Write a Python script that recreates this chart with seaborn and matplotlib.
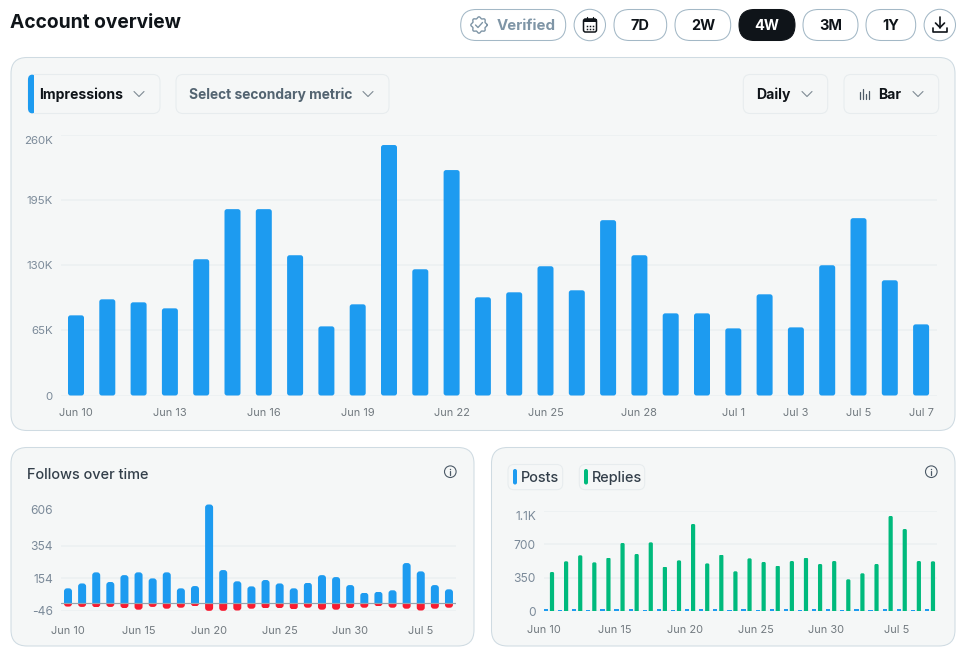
import numpy as np
import pandas as pd
import matplotlib
matplotlib.use("Agg")
import matplotlib.pyplot as plt
import matplotlib.transforms as mtransforms
from matplotlib.patches import FancyBboxPatch, Circle, Rectangle
import seaborn as sns

# ---- data -------------------------------------------------------------
dates = ["Jun 10", "Jun 11", "Jun 12", "Jun 13", "Jun 14", "Jun 15", "Jun 16",
         "Jun 17", "Jun 18", "Jun 19", "Jun 20", "Jun 21", "Jun 22", "Jun 23",
         "Jun 24", "Jun 25", "Jun 26", "Jun 27", "Jun 28", "Jun 29", "Jun 30",
         "Jul 1", "Jul 2", "Jul 3", "Jul 4", "Jul 5", "Jul 6", "Jul 7"]
impressions = [80000, 96000, 93000, 87000, 136000, 186000, 186000, 140000,
               69000, 91000, 250000, 126000, 225000, 98000, 103000, 129000,
               105000, 175000, 140000, 82000, 82000, 67000, 101000, 68000,
               130000, 177000, 115000, 71000]
follows = [92, 122, 190, 131, 173, 190, 153, 190, 92, 106, 606, 204, 135, 104,
           143, 122, 92, 126, 173, 161, 112, 65, 71, 80, 247, 196, 112, 86]
unfollows = [-20, -22, -24, -22, -29, -39, -22, -33, -27, -18, -46, -46, -44,
             -33, -31, -29, -37, -27, -39, -39, -29, -27, -18, -27, -33, -44,
             -33, -27]
replies = [410, 522, 585, 511, 560, 714, 599, 721, 466, 532, 914, 500, 592, 417,
           553, 515, 476, 525, 560, 494, 525, 333, 396, 494, 998, 861, 525, 522]
posts = [16, 15, 18, 15, 16, 18, 16, 15, 16, 15, 18, 16, 18, 15,
         16, 15, 16, 18, 15, 16, 16, 15, 16, 15, 18, 16, 15, 16]

main_y_ticks = [0, 65000, 130000, 195000, 260000]
main_y_labels = ["0", "65K", "130K", "195K", "260K"]
main_x_labels = ["Jun 10", "Jun 13", "Jun 16", "Jun 19", "Jun 22", "Jun 25",
                 "Jun 28", "Jul 1", "Jul 3", "Jul 5", "Jul 7"]
follow_y_ticks = [-46, 154, 354, 606]
reply_y_ticks = [0, 350, 700, 1050]
reply_y_labels = ["0", "350", "700", "1.1K"]
lower_x_labels = ["Jun 10", "Jun 15", "Jun 20", "Jun 25", "Jun 30", "Jul 5"]

# ---- palette ----------------------------------------------------------
BLUE, RED, GREEN = "#1d9bf0", "#f91b30", "#00ba7c"
INK, SLATE, MUTED = "#0f1419", "#536471", "#7f95a6"
PANEL, PANEL_EDGE, CHIP_EDGE = "#f5f7f7", "#cfdbe2", "#e7ecee"
GRID = "#ecf0f1"
TICK_Y, TICK_X = "#7b8a99", "#71797f"

W, H = 968, 655
sns.set_theme(style="white")
plt.rcParams["font.family"] = ["Inter", "DejaVu Sans"]
fig = plt.figure(figsize=(W / 100, H / 100), dpi=100, facecolor="white")


def px(v):
    """Pixels at 100 dpi expressed in points."""
    return v * 0.72


# ---- page furniture lives on a pixel-addressed canvas -----------------
ui = fig.add_axes([0, 0, 1, 1], zorder=0)
ui.set_xlim(0, W)
ui.set_ylim(H, 0)
ui.axis("off")


def box(x0, y0, x1, y1, r, fc, ec, lw=0.75, zorder=1):
    ui.add_patch(FancyBboxPatch((x0, y0), x1 - x0, y1 - y0,
                                boxstyle=f"round,pad=0,rounding_size={r}",
                                fc=fc, ec=ec, lw=lw, zorder=zorder))


def label(x, y, s, size, color, weight="normal", ha="left"):
    ui.text(x, y - 0.7, s, fontsize=px(size), color=color, fontweight=weight,
            ha=ha, va="center_baseline", zorder=5)


def chevron(x, y):
    ui.plot([x - 5, x, x + 5], [y - 2.5, y + 2.5, y - 2.5], color="#7f8b94",
            lw=0.8, zorder=5)


def info_icon(x, y):
    ui.add_patch(Circle((x, y), 5.8, fc="none", ec="#4c5a67", lw=0.8, zorder=5))
    ui.plot([x, x], [y - 0.8, y + 2.9], color="#4c5a67", lw=0.9, zorder=5)
    ui.plot([x], [y - 2.9], marker="o", ms=1.0, mew=0, color="#4c5a67", zorder=5)


label(10, 21.5, "Account overview", 19.2, INK, "bold")

# range selector pills
pills = [("7D", 614, 666.7), ("2W", 675, 730.7), ("3M", 803, 858), ("1Y", 866, 915.7)]
PILL_EDGE = "#a3b8c6"
box(460.7, 9.5, 565.7, 40.5, 15.5, "white", PILL_EDGE)
label(526, 25, "Verified", 15, MUTED, "bold", "center")
for name, x0, x1 in pills:
    box(x0, 9.5, x1, 40.5, 15.5, "white", PILL_EDGE)
    label((x0 + x1) / 2, 25, name, 14.5, INK, "bold", "center")
box(739, 9.5, 795, 40.5, 15.5, INK, INK)
label(767, 25, "4W", 14.5, "white", "bold", "center")

# verified badge
t = np.linspace(0, 2 * np.pi, 160)
rad = 7.4 + 0.8 * np.cos(8 * t)
ui.plot(479 + rad * np.cos(t), 25 + rad * np.sin(t), color=MUTED, lw=1.0, zorder=5)
ui.plot([475.5, 478, 482.5], [25, 27.5, 22.5], color=MUTED, lw=1.0, zorder=5)

# calendar button
ui.add_patch(Circle((589.8, 25), 15.7, fc="white", ec=PILL_EDGE, lw=0.75, zorder=2))
box(583.5, 19, 596.5, 32, 2, "white", INK, lw=1.1, zorder=5)
ui.add_patch(Rectangle((583.5, 19), 13, 2.5, fc=INK, ec="none", zorder=5))
for cx in (587, 590, 593):
    if cx != 590:
        ui.plot([cx, cx], [17, 19.5], color=INK, lw=0.9, zorder=5)
    for cy in (25.5, 28.5):
        ui.plot([cx], [cy], marker="s", ms=1.1, color=INK, mew=0, zorder=6)

# download button
ui.add_patch(Circle((939.8, 25), 15.7, fc="white", ec=PILL_EDGE, lw=0.75, zorder=2))
ui.plot([940, 940], [17, 27.5], color=INK, lw=1.2, zorder=5)
ui.plot([935.5, 940, 944.5], [23, 27.5, 23], color=INK, lw=1.2, zorder=5)
ui.plot([933, 933, 947, 947], [28, 32, 32, 28], color=INK, lw=1.2, zorder=5)

# panels
box(11, 57.5, 955, 430.5, 16, PANEL, PANEL_EDGE)
box(11, 447.5, 474, 646, 16, PANEL, PANEL_EDGE)
box(491.5, 447.5, 955, 646, 16, PANEL, PANEL_EDGE)

# metric dropdowns
box(28, 74.5, 160, 113.5, 7, PANEL, CHIP_EDGE, zorder=2)
ui.add_patch(FancyBboxPatch((28, 74.5), 8, 39, boxstyle="round,pad=0,rounding_size=5",
                            fc=BLUE, ec="none", zorder=3))
ui.add_patch(Rectangle((34, 75), 4, 38, fc=PANEL, ec="none", zorder=3))
label(39.5, 94, "Impressions", 14, INK, "bold")
chevron(139, 94)
box(176, 74.5, 389, 113.5, 7, PANEL, CHIP_EDGE, zorder=2)
label(188.7, 94, "Select secondary metric", 13.8, SLATE, "bold")
chevron(368, 94)
box(743.3, 74.5, 827.7, 113.5, 7, PANEL, CHIP_EDGE, zorder=2)
label(756, 94, "Daily", 14, INK, "bold")
chevron(807, 94)
box(844, 74.5, 938.7, 113.5, 7, PANEL, CHIP_EDGE, zorder=2)
for bx, top in zip((859.5, 862.5, 865.5, 868.5), (92, 88.5, 94, 91)):
    ui.plot([bx, bx], [top, 99], color="#4c5a67", lw=0.9, zorder=5)
label(878.5, 94, "Bar", 14, INK, "bold")
chevron(918, 94)

# lower panel headings
label(27, 474, "Follows over time", 14.5, "#333f4a", "medium")
info_icon(450.3, 471.7)
info_icon(931.3, 471.7)
for x0, x1, mx, tx, name, col in [(508, 562.7, 513, 521, "Posts", BLUE),
                                  (579.3, 644.7, 584, 592.3, "Replies", GREEN)]:
    box(x0, 464.5, x1, 489.7, 6, PANEL, CHIP_EDGE, zorder=2)
    ui.add_patch(FancyBboxPatch((mx, 469), 4, 15.5, boxstyle="round,pad=0,rounding_size=2",
                                fc=col, ec="none", zorder=3))
    label(tx, 477, name, 14.5, "#333f4a", "medium")


# ---- chart helpers ----------------------------------------------------
def chart_axes(left, top, right, bottom, xlim, ylim):
    ax = fig.add_axes([left / W, 1 - bottom / H, (right - left) / W, (bottom - top) / H],
                      zorder=2)
    ax.patch.set_alpha(0)
    ax._limits = (xlim, ylim)
    return ax


def finish_axes(ax, yticks, ylabels, xticks, xlabels, y_size, x_pad, y_pad, top_shift):
    ax.set_xlim(*ax._limits[0])
    ax.set_ylim(*ax._limits[1])
    ax.set_xlabel("")
    ax.set_ylabel("")
    sns.despine(ax=ax, left=True, bottom=True, top=True, right=True)
    ax.set_yticks(yticks, ylabels)
    ax.set_xticks(xticks, xlabels)
    ax.tick_params(axis="y", length=0, pad=px(y_pad), labelsize=px(y_size), labelcolor=TICK_Y)
    ax.tick_params(axis="x", length=0, pad=px(x_pad), labelsize=px(11), labelcolor=TICK_X)
    ax.grid(axis="y", color=GRID, lw=px(1.6), zorder=0)
    ax.grid(axis="x", visible=False)
    ax.set_axisbelow(True)
    # the topmost value label sits just under its gridline
    shift = mtransforms.ScaledTranslation(0, -top_shift / 100, fig.dpi_scale_trans)
    top = ax.get_yticklabels()[-1]
    top.set_transform(top.get_transform() + shift)


def round_bars(ax, radius, flat_base=False):
    """Give the bars drawn by seaborn rounded ends."""
    bbox = ax.get_window_extent()
    (x0, x1), (y0, y1) = ax.get_xlim(), ax.get_ylim()
    ux, uy = (x1 - x0) / bbox.width, (y1 - y0) / bbox.height
    for bar in list(ax.patches):
        if isinstance(bar, FancyBboxPatch):
            continue
        x, w = bar.get_x(), bar.get_width()
        value = bar.get_y() + bar.get_height()
        low, high = sorted((bar.get_y(), value))
        h = high - low
        if h / uy < 2.5:
            continue
        r = min(radius, (w / ux) / 2) * ux
        lo, hi = low, high
        if flat_base:
            # run the shape past the axis so only the far end shows its curve
            extra = 2 * radius * uy
            lo, hi = (low - extra, high) if value > 0 else (low, high + extra)
        shape = FancyBboxPatch((x, lo), w, hi - lo,
                               boxstyle=f"round,pad=0,rounding_size={r}",
                               mutation_aspect=uy / ux, fc=bar.get_facecolor(),
                               ec="none", zorder=3)
        ax.add_patch(shape)
        if flat_base:
            span = mtransforms.Bbox([[x - w, low], [x + 2 * w, high]])
            shape.set_clip_box(mtransforms.TransformedBbox(span, ax.transData))
            shape.set_clip_on(True)
        else:
            shape.set_clip_on(False)
        bar.set_visible(False)


PITCH_MAIN = 31.3
PITCH_LOW = 14.11

# ---- impressions ------------------------------------------------------
ax_main = chart_axes(61, 135, 937, 395.5,
                     ((61 - 76) / PITCH_MAIN, (937 - 76) / PITCH_MAIN), (0, 260000))
frame = pd.DataFrame({"date": dates, "impressions": impressions})
sns.barplot(data=frame, x="date", y="impressions", color=BLUE, saturation=1,
            width=16 / PITCH_MAIN, ax=ax_main, zorder=3)
finish_axes(ax_main, main_y_ticks, main_y_labels,
            [dates.index(d) for d in main_x_labels], main_x_labels, 11.5, 12.5, 8, 5)
round_bars(ax_main, 2.5)

# ---- follows ----------------------------------------------------------
ax_follow = chart_axes(61, 504.5, 456, 611,
                       ((61 - 68) / PITCH_LOW, (456 - 68) / PITCH_LOW), (-46, 606))
frame = pd.DataFrame({"date": dates, "follows": follows, "unfollows": unfollows})
sns.barplot(data=frame, x="date", y="follows", color=BLUE, saturation=1,
            width=8 / PITCH_LOW, ax=ax_follow, zorder=3)
sns.barplot(data=frame, x="date", y="unfollows", color=RED, saturation=1,
            width=8 / PITCH_LOW, ax=ax_follow, zorder=3)
finish_axes(ax_follow, follow_y_ticks, [str(v) for v in follow_y_ticks],
            [dates.index(d) for d in lower_x_labels], lower_x_labels, 12, 14.5, 8, 5.5)
ax_follow.set_ylim(-47, 606)
round_bars(ax_follow, 3, flat_base=True)
ax_follow.axhline(0, color="#93a4b0", lw=px(1.2), zorder=4)

# ---- posts and replies ------------------------------------------------
ax_reply = chart_axes(544, 511, 937, 611,
                      ((544 - 549) / PITCH_LOW, (937 - 549) / PITCH_LOW), (0, 1050))
long_frame = pd.DataFrame({"date": dates * 2,
                           "kind": ["Posts"] * len(dates) + ["Replies"] * len(dates),
                           "count": posts + replies})
sns.barplot(data=long_frame, x="date", y="count", hue="kind",
            palette={"Posts": BLUE, "Replies": GREEN}, saturation=1, width=0.85,
            gap=0.3, legend=False, linewidth=0, ax=ax_reply, zorder=3)
finish_axes(ax_reply, reply_y_ticks, reply_y_labels,
            [dates.index(d) - 0.35 for d in lower_x_labels], lower_x_labels, 12, 14, 8, 5)
round_bars(ax_reply, 1.5, flat_base=True)

fig.savefig("out.png", dpi=100, facecolor="white")
